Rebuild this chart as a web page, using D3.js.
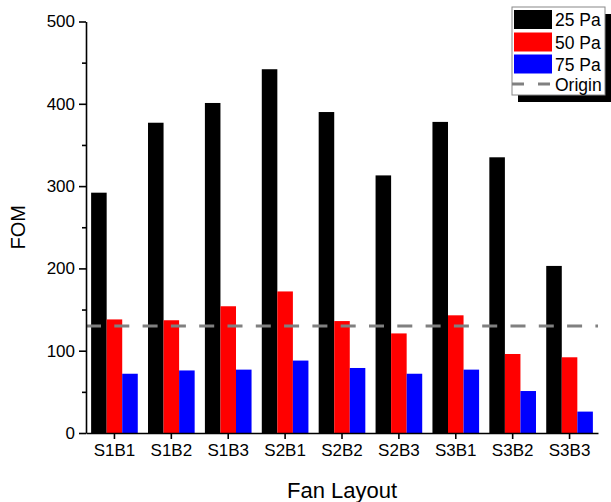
<!DOCTYPE html>
<html>
<head>
<meta charset="utf-8">
<script src="https://cdn.jsdelivr.net/npm/d3@7"></script>
<style>
body { margin: 0; background: #fff; }
svg { display: block; font-family: "Liberation Sans", Arial, sans-serif; }
</style>
</head>
<body>
<div id="chart"></div>
<script>
var categories = ["S1B1", "S1B2", "S1B3", "S2B1", "S2B2", "S2B3", "S3B1", "S3B2", "S3B3"];
var seriesNames = ["25 Pa", "50 Pa", "75 Pa"];
var seriesColors = ["#000000", "#ff0000", "#0000ff"];
var pa25 = [292, 377, 401, 442, 390, 313, 378, 335, 203];
var pa50 = [138, 137, 154, 172, 136, 121, 143, 96, 92];
var pa75 = [72, 76, 77, 88, 79, 72, 77, 51, 26];
var originValue = 130;
var yMajorTicks = [0, 100, 200, 300, 400, 500];
var yMinorTicks = [50, 150, 250, 350, 450];

var width = 611, height = 502;
var plotLeft = 86, plotRight = 598, plotTop = 21.5, plotBottom = 433;

var svg = d3.select("#chart").append("svg")
	.attr("width", width)
	.attr("height", height);

var x0 = d3.scaleBand().domain(categories).range([plotLeft, plotRight]);
var bw = x0.bandwidth();
var x1 = d3.scaleBand().domain(seriesNames).range([bw * 0.09, bw * 0.91]);
var y = d3.scaleLinear().domain([0, 500]).range([plotBottom, plotTop]);

var allSeries = [pa25, pa50, pa75];

// bars
categories.forEach(function(c, i) {
	var g = svg.append("g").attr("transform", "translate(" + x0(c) + ",0)");
	seriesNames.forEach(function(s, k) {
		var v = allSeries[k][i];
		g.append("rect")
			.attr("x", x1(s))
			.attr("y", y(v))
			.attr("width", x1.bandwidth())
			.attr("height", y(0) - y(v))
			.attr("fill", seriesColors[k]);
	});
});

// origin dashed line
svg.append("line")
	.attr("x1", plotLeft)
	.attr("x2", plotRight)
	.attr("y1", y(originValue))
	.attr("y2", y(originValue))
	.attr("stroke", "#808080")
	.attr("stroke-width", 3)
	.attr("stroke-dasharray", "15,13.3");

// y axis
svg.append("g")
	.attr("transform", "translate(" + plotLeft + ",0)")
	.call(d3.axisLeft(y).tickValues(yMajorTicks).tickSize(7).tickPadding(4).tickSizeOuter(0));
svg.append("g")
	.attr("transform", "translate(" + plotLeft + ",0)")
	.call(d3.axisLeft(y).tickValues(yMinorTicks).tickSize(4).tickFormat("").tickSizeOuter(0))
	.select(".domain").remove();

// x axis
svg.append("g")
	.attr("transform", "translate(0," + plotBottom + ")")
	.call(d3.axisBottom(x0).tickSize(6).tickPadding(5).tickSizeOuter(0));

svg.selectAll(".tick text")
	.attr("font-size", 17)
	.attr("font-family", "Liberation Sans, Arial, sans-serif")
	.attr("fill", "#000");
svg.selectAll(".domain, .tick line")
	.attr("stroke", "#000")
	.attr("stroke-width", 1.6);

// axis titles
svg.append("text")
	.attr("transform", "translate(25," + ((plotTop + plotBottom) / 2) + ") rotate(-90)")
	.attr("text-anchor", "middle")
	.attr("font-size", 20)
	.text("FOM");

svg.append("text")
	.attr("x", (plotLeft + plotRight) / 2)
	.attr("y", 498)
	.attr("text-anchor", "middle")
	.attr("font-size", 22)
	.text("Fan Layout");

// legend
var lx = 512, ly = 7, lw = 93, lh = 88;
svg.append("rect")
	.attr("x", lx + 6).attr("y", ly + 7)
	.attr("width", lw).attr("height", lh)
	.attr("fill", "#000");
svg.append("rect")
	.attr("x", lx).attr("y", ly)
	.attr("width", lw).attr("height", lh)
	.attr("fill", "#fff")
	.attr("stroke", "#888")
	.attr("stroke-width", 1);

var rowY = [19.5, 42, 64, 84];
seriesNames.forEach(function(s, k) {
	svg.append("rect")
		.attr("x", lx + 2).attr("y", rowY[k] - 9.5)
		.attr("width", 38).attr("height", 19)
		.attr("fill", seriesColors[k]);
	svg.append("text")
		.attr("x", lx + 43).attr("y", rowY[k] + 6.5)
		.attr("font-size", 17.5)
		.text(s);
});
svg.append("line")
	.attr("x1", lx).attr("x2", lx + 42)
	.attr("y1", rowY[3]).attr("y2", rowY[3])
	.attr("stroke", "#808080")
	.attr("stroke-width", 3)
	.attr("stroke-dasharray", "12,14");
svg.append("text")
	.attr("x", lx + 43).attr("y", rowY[3] + 6.5)
	.attr("font-size", 17.5)
	.text("Origin");
</script>
</body>
</html>
